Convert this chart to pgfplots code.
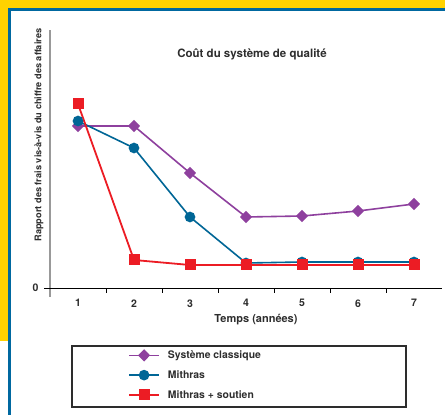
\documentclass[border=0pt]{standalone}
\usepackage{fontspec}
\setmainfont{TeX Gyre Heros}
\usepackage{pgfplots}
\pgfplotsset{compat=1.18}
\definecolor{cpurple}{RGB}{142,64,158}
\definecolor{cblue}{RGB}{0,102,150}
\definecolor{cred}{RGB}{236,28,36}
\definecolor{cyellow}{RGB}{255,210,0}
\definecolor{cborder}{RGB}{0,104,160}
\definecolor{ctext}{RGB}{45,45,45}
\begin{document}
\begin{tikzpicture}[x=1pt,y=1pt]
\useasboundingbox (0,0) rectangle (445,415);
\fill[white] (0,0) rectangle (445,415);
\fill[cyellow] (0,74) rectangle (9,415);
\fill[cyellow] (0,406) rectangle (445,415);
\draw[cborder, line width=3pt] (9.5,0) -- (9.5,405.5) -- (445,405.5);
\begin{axis}[
  at={(50pt,127pt)}, anchor=south west,
  scale only axis, width=392pt, height=258pt,
  xmin=0.5, xmax=7.5, ymin=0, ymax=258,
  axis line style={draw=none},
  clip=false,
  xtick={1,...,7}, ytick={0},
  minor xtick={1.5,2.5,...,6.5},
  major tick length=0pt, minor tick length=5pt,
  tick style={black, line width=0.8pt},
  xtick pos=bottom, ytick pos=left,
  tick align=outside,
  /pgf/number format/assume math mode=true,
  ticklabel style={font=\bfseries\fontsize{10.5}{12}\selectfont, text=ctext},
  xticklabel style={yshift=-8pt},
  yticklabel style={xshift=-8pt},
  legend style={at={(0.0561,-0.2248)}, anchor=north west,
    draw=none, fill=none, inner xsep=56pt, inner ysep=2.5pt,
    font=\bfseries\fontsize{10.4}{12}\selectfont, text=ctext,
    row sep=6.5pt},
  legend cell align=left,
  legend image code/.code={
    \draw[mark repeat=2, mark phase=2, #1] plot coordinates {(0pt,0pt) (15pt,0pt) (30pt,0pt)};
  },
]
\draw[gray!80, line width=1.3pt] (axis cs:0.5,-9) -- (axis cs:0.5,258);
\draw[black, line width=0.9pt] (axis cs:0.393,0) -- (axis cs:7.5,0);
\addplot[cpurple, line width=1.6pt, mark=diamond*, mark size=5pt, mark options={xscale=1.3}]
  coordinates {(1,162) (2,162) (3,115) (4,71) (5,72) (6,77) (7,84)};
\addlegendentry{\makebox[178pt][l]{\hspace*{6pt}Système classique}}
\addplot[cblue, line width=1.6pt, mark=*, mark size=4.5pt]
  coordinates {(1,167) (2,140) (3,71) (4,25) (5,26) (6,26) (7,26)};
\addlegendentry{\makebox[178pt][l]{\hspace*{6pt}Mithras}}
\addplot[cred, line width=1.8pt, mark=square*, mark size=4.6pt]
  coordinates {(1,184) (2,28) (3,23) (4,23) (5,23) (6,23) (7,23)};
\addlegendentry{\makebox[178pt][l]{\hspace*{6pt}Mithras + soutien}}
\end{axis}
\draw[ctext, line width=1.3pt] (72,8) rectangle (406,69);
\node[font=\bfseries\fontsize{11.5}{13}\selectfont, text=ctext] at (252,361) {Coût du système de qualité};
\node[font=\bfseries\fontsize{11}{13}\selectfont, text=ctext] at (256,95) {Temps (années)};
\node[font=\bfseries\fontsize{9.2}{10}\selectfont, text=ctext, rotate=90] at (39,280) {Rapport des frais vis-à-vis du chiffre des affaires};
\end{tikzpicture}
\end{document}
